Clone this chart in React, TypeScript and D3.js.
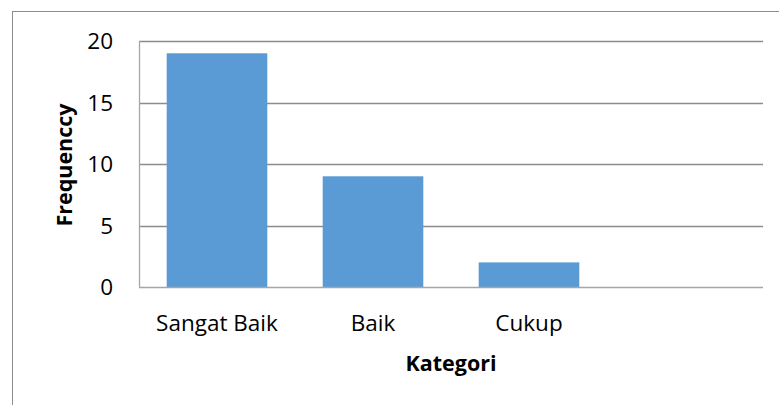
import React, { useEffect, useRef } from 'react';
import * as d3 from 'd3';

// chart values
const categories = ['Sangat Baik', 'Baik', 'Cukup', ''];
const frequencies = [19, 9, 2, null];
const yTicks = [0, 5, 10, 15, 20];

export default function App() {
  const ref = useRef<SVGSVGElement | null>(null);

  useEffect(() => {
    const width = 779;
    const height = 405;
    const margin = { top: 41, right: 16, bottom: 118, left: 139 };
    const font = '"Open Sans", "Noto Sans", sans-serif';

    const svg = d3.select(ref.current);
    svg.selectAll('*').remove();
    svg.style('font-family', font);

    // outer chart border (cut off at right and bottom)
    svg.append('rect')
      .attr('x', 12.5)
      .attr('y', 11.5)
      .attr('width', width + 20)
      .attr('height', height + 20)
      .attr('fill', '#fff')
      .attr('stroke', '#8c8c8c')
      .attr('stroke-width', 1);

    const x = d3.scaleBand<string>()
      .domain(categories.map((c, i) => c || `_${i}`))
      .range([margin.left, width - margin.right])
      .paddingInner(0.355)
      .paddingOuter(0.1775);

    const y = d3.scaleLinear()
      .domain([0, 20])
      .range([height - margin.bottom, margin.top]);

    // gridlines
    svg.append('g')
      .selectAll('line')
      .data(yTicks.filter(t => t > 0))
      .enter()
      .append('line')
      .attr('x1', margin.left)
      .attr('x2', width - margin.right)
      .attr('y1', d => Math.round(y(d)) + 0.5)
      .attr('y2', d => Math.round(y(d)) + 0.5)
      .attr('stroke', '#8c8c8c')
      .attr('stroke-width', 1.3);

    // bars
    svg.append('g')
      .selectAll('rect')
      .data(categories.map((c, i) => ({ key: c || `_${i}`, v: frequencies[i] })).filter(d => d.v != null))
      .enter()
      .append('rect')
      .attr('x', d => x(d.key)!)
      .attr('width', x.bandwidth())
      .attr('y', d => y(d.v as number))
      .attr('height', d => y(0) - y(d.v as number))
      .attr('fill', '#5b9bd5');

    // axes lines
    svg.append('line')
      .attr('x1', margin.left + 0.5).attr('x2', margin.left + 0.5)
      .attr('y1', y(20)).attr('y2', y(0))
      .attr('stroke', '#a6a6a6').attr('stroke-width', 1.3);
    svg.append('line')
      .attr('x1', margin.left).attr('x2', width - margin.right)
      .attr('y1', y(0) + 0.5).attr('y2', y(0) + 0.5)
      .attr('stroke', '#a6a6a6').attr('stroke-width', 1.5);

    // y tick labels
    svg.append('g')
      .selectAll('text')
      .data(yTicks)
      .enter()
      .append('text')
      .attr('x', 113)
      .attr('y', d => y(d))
      .attr('dy', '0.36em')
      .attr('text-anchor', 'end')
      .attr('font-size', 22.5)
      .attr('fill', '#000')
      .text(d => d);

    // x category labels
    svg.append('g')
      .selectAll('text')
      .data(categories.filter(c => c))
      .enter()
      .append('text')
      .attr('x', d => x(d)! + x.bandwidth() / 2)
      .attr('y', 331)
      .attr('text-anchor', 'middle')
      .attr('font-size', 22.5)
      .attr('fill', '#000')
      .text(d => d);

    // axis titles
    svg.append('text')
      .attr('x', (margin.left + width - margin.right) / 2)
      .attr('y', 371)
      .attr('text-anchor', 'middle')
      .attr('font-size', 21.5)
      .attr('font-weight', 700)
      .text('Kategori');

    svg.append('text')
      .attr('transform', 'translate(72,165) rotate(-90)')
      .attr('text-anchor', 'middle')
      .attr('font-size', 21.5)
      .attr('font-weight', 700)
      .text('Frequenccy');
  }, []);

  return (
    <svg
      ref={ref}
      width={779}
      height={405}
      style={{ position: 'absolute', left: 0, top: 0, background: '#fff' }}
    />
  );
}
